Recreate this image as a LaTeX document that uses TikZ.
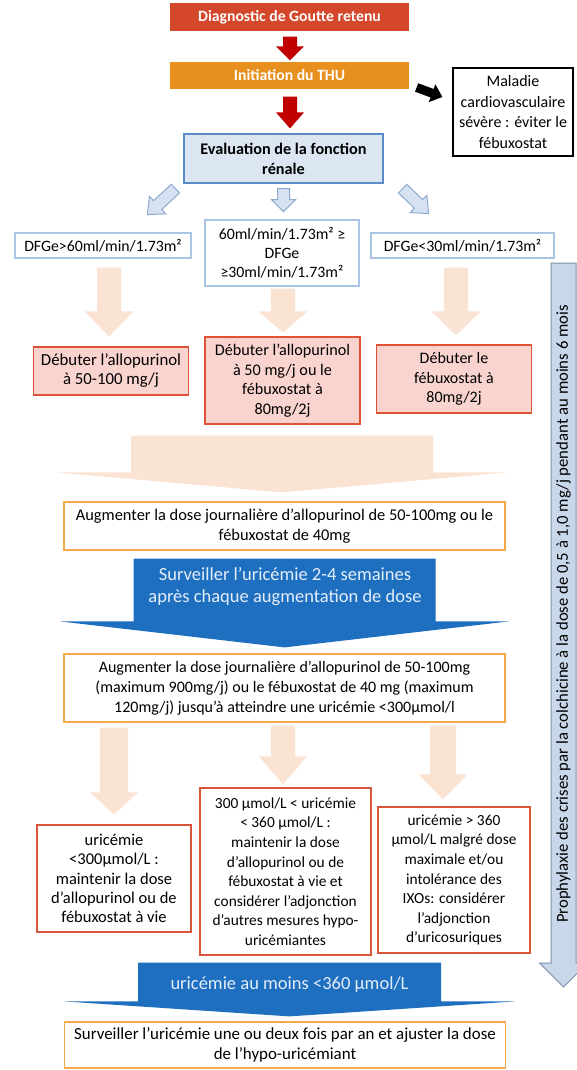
\documentclass[tikz,border=0pt]{standalone}
\usepackage{fontspec}
\setmainfont{Carlito}
\usetikzlibrary{calc}
\definecolor{diagRed}{HTML}{D4472A}
\definecolor{initOrange}{HTML}{E8901E}
\definecolor{arrowRed}{HTML}{C00000}
\definecolor{evalFill}{HTML}{DCE6F2}
\definecolor{evalDraw}{HTML}{5B8BC5}
\definecolor{dfgDraw}{HTML}{A9C4E4}
\definecolor{hollowFill}{HTML}{D6E2F2}
\definecolor{hollowDraw}{HTML}{8EAAD0}
\definecolor{peach}{HTML}{FBE3D3}
\definecolor{pinkFill}{HTML}{F9D4CF}
\definecolor{pinkDraw}{HTML}{DE5236}
\definecolor{goldDraw}{HTML}{F5A94A}
\definecolor{blueArrow}{HTML}{1F6FC0}
\definecolor{blueText}{HTML}{E4EEF9}
\definecolor{uriDraw}{HTML}{D9553A}
\definecolor{proFill}{HTML}{C9D7EA}
\definecolor{proDraw}{HTML}{7D92AF}
% block arrow: style, from, to, shaft half width, head half width, head length
\newcommand{\fatarrow}[6]{%
  \coordinate (fa-s) at #2;
  \coordinate (fa-t) at #3;
  \coordinate (fa-h) at ($(fa-t)!#6!(fa-s)$);
  \draw[#1] ($(fa-s)!#4!90:(fa-t)$) -- ($(fa-h)!#4!-90:(fa-s)$) -- ($(fa-h)!#5!-90:(fa-s)$)
    -- (fa-t) -- ($(fa-h)!#5!90:(fa-s)$) -- ($(fa-h)!#4!90:(fa-s)$) -- ($(fa-s)!#4!-90:(fa-t)$) -- cycle;
}
% font size and line skip
\newcommand{\fsz}[2]{\fontsize{#1}{#2}\selectfont}

\begin{document}
\begin{tikzpicture}[x=1pt,y=-1pt,line width=1.2pt]
\tikzstyle{every node}=[font=\fsz{16}{19.6}, align=center, inner sep=0pt]
\tikzstyle{title}=[minimum width=239pt, text=white, font=\fsz{15.7}{18}\bfseries]
\tikzstyle{evalbox}=[draw=evalDraw, fill=evalFill, minimum width=199pt, minimum height=49pt, font=\fsz{16.2}{20}\bfseries]
\tikzstyle{dfgbox}=[draw=dfgDraw, fill=white, font=\fsz{15.8}{19}]
\tikzstyle{startbox}=[draw=pinkDraw, fill=pinkFill, minimum width=155pt]
\tikzstyle{dosebox}=[draw=goldDraw, fill=white, minimum width=441pt]
\tikzstyle{uribox}=[draw=uriDraw, fill=white]
\tikzstyle{redarr}=[fill=arrowRed, draw=none]
\tikzstyle{blackarr}=[fill=black, draw=none]
\tikzstyle{hollowarr}=[fill=hollowFill, draw=hollowDraw, line width=1pt]
\tikzstyle{peacharr}=[fill=peach, draw=none]
\tikzstyle{bluearr}=[fill=blueArrow, draw=none]
\tikzstyle{proarr}=[fill=proFill, draw=proDraw, line width=1pt]
\tikzstyle{bluetext}=[text=blueText, font=\fsz{18.5}{22.5}]
\useasboundingbox (0,0) rectangle (577,1070);
\fill[white] (0,0) rectangle (577,1070);

% boxes
\node[title, fill=diagRed, minimum height=28pt] (diag) at (289.5,17) {Diagnostic de Goutte retenu};
\node[title, fill=initOrange, minimum height=27pt] (init) at (289.5,75.5) {Initiation du THU};
\node[evalbox] (eval) at (283.5,158.5) {Evaluation de la fonction\\rénale};
\node[draw=black, fill=white, minimum width=120pt, minimum height=88pt, font=\fsz{16}{20.5}] (maladie) at (513,112) {Maladie\\cardiovasculaire\\sévère : éviter le\\fébuxostat};
\node[dfgbox, minimum width=176pt, minimum height=25pt] (dfgA) at (103,245.5) {DFGe>60ml/min/1.73m²};
\node[dfgbox, minimum width=154pt, minimum height=66pt] (dfgB) at (282,253) {60ml/min/1.73m² ≥\\DFGe\\≥30ml/min/1.73m²};
\node[dfgbox, minimum width=183pt, minimum height=25pt] (dfgC) at (462.5,245.5) {DFGe<30ml/min/1.73m²};
\node[startbox, minimum height=48pt, font=\fsz{16.8}{19}] (debA) at (111,371) {Débuter l’allopurinol\\à 50-100 mg/j};
\node[startbox, minimum height=87pt, font=\fsz{16.2}{19.6}] (debB) at (282.5,380.5) {Débuter l’allopurinol\\à 50 mg/j ou le\\fébuxostat à\\80mg/2j};
\node[startbox, minimum height=68pt] (debC) at (454,379) {Débuter le\\fébuxostat à\\80mg/2j};
\node[dosebox, minimum height=48pt, font=\fsz{16.4}{20}] (augm) at (284.5,526) {Augmenter la dose journalière d’allopurinol de 50-100mg ou le\\fébuxostat de 40mg};
\node[dosebox, minimum height=68pt, font=\fsz{16}{20}] (augmmax) at (284.5,688) {Augmenter la dose journalière d’allopurinol de 50-100mg\\(maximum 900mg/j) ou le fébuxostat de 40 mg (maximum\\120mg/j) jusqu’à atteindre une uricémie <300µmol/l};
\node[uribox, minimum width=154pt, minimum height=107pt, font=\fsz{16.5}{19.3}] (uriA) at (114,878.5) {uricémie\\<300µmol/L :\\maintenir la dose\\d’allopurinol ou de\\fébuxostat à vie};
\node[uribox, minimum width=171pt, minimum height=167pt, font=\fsz{15.4}{19.6}] (uriB) at (285.5,871.5) {300 µmol/L < uricémie\\< 360 µmol/L :\\maintenir la dose\\d’allopurinol ou de\\fébuxostat à vie et\\considérer l’adjonction\\d’autres mesures hypo-\\uricémiantes};
\node[uribox, minimum width=152pt, minimum height=146pt, font=\fsz{15.4}{19.6}] (uriC) at (454,880) {uricémie > 360\\µmol/L malgré dose\\maximale et/ou\\intolérance des\\IXOs: considérer\\l’adjonction\\d’uricosuriques};
\node[dosebox, minimum height=46pt, font=\fsz{16.9}{20}] (suivi) at (285,1045) {Surveiller l’uricémie une ou deux fois par an et ajuster la dose\\de l’hypo-uricémiant};

% arrows
\fatarrow{redarr}{($(diag.south)+(0.5,5)$)}{($(init.north)+(0.5,-1)$)}{7pt}{14pt}{14pt}
\fatarrow{redarr}{($(init.south)+(0.5,7)$)}{($(init.south |- eval.north)+(0.5,-5)$)}{7pt}{14pt}{16pt}
\fatarrow{blackarr}{($(init.east)+(7,12)$)}{($(maladie.west)+(-10,-15)$)}{4.5pt}{9.5pt}{11pt}
\fatarrow{hollowarr}{($(eval.south west)+(-8,5)$)}{($(eval.south west)+(-36,31)$)}{6pt}{12pt}{14pt}
\fatarrow{hollowarr}{($(eval.south)+(0,5)$)}{($(eval.south)+(0,28)$)}{6pt}{12pt}{12pt}
\fatarrow{hollowarr}{($(eval.south east)+(19,5)$)}{($(eval.south east)+(45,30)$)}{6pt}{12pt}{14pt}
\fatarrow{peacharr}{($(debA.north |- dfgA.south)+(-2,9)$)}{($(debA.north)+(-2,-10)$)}{12pt}{24.5pt}{25pt}
\fatarrow{peacharr}{($(dfgB.south)+(1,2)$)}{($(debB.north)+(0.5,-4)$)}{12pt}{24.5pt}{21pt}
\fatarrow{peacharr}{($(debC.north |- dfgC.south)+(2,9)$)}{($(debC.north)+(2,-9)$)}{12pt}{24.5pt}{24pt}
\fatarrow{peacharr}{($(debB.south -| augm.north)+(-2.5,11)$)}{($(augm.north)+(-2.5,-9)$)}{151pt}{225.5pt}{20pt}
\fatarrow{bluearr}{($(augm.south)+(0,8)$)}{($(augmmax.north)+(0,-6)$)}{151pt}{224.5pt}{26pt}
\fatarrow{peacharr}{($(uriA.north |- augmmax.south)+(0,5)$)}{($(uriA.north)+(0,-10)$)}{14pt}{24pt}{22pt}
\fatarrow{peacharr}{($(uriB.north |- augmmax.south)+(-2.5,3)$)}{($(uriB.north)+(-2.5,-3)$)}{12pt}{24pt}{28pt}
\fatarrow{peacharr}{($(uriC.north |- augmmax.south)+(-11,3)$)}{($(uriC.north)+(-11,-7)$)}{13pt}{24.5pt}{25pt}
\fatarrow{bluearr}{($(uriB.south)+(4,7)$)}{($(suivi.north)+(4.5,-5)$)}{151.5pt}{225.5pt}{15pt}
\coordinate (proTop) at (563.5,263);
\coordinate (proTip) at (563.5,987);
\fatarrow{proarr}{(proTop)}{(proTip)}{12.5pt}{24pt}{24pt}

% texts on arrows
\node[bluetext] (surv) at (285,586.5) {Surveiller l’uricémie 2-4 semaines\\après chaque augmentation de dose};
\node[bluetext] (note) at (289.5,985) {uricémie au moins <360 µmol/L};
\node[rotate=90, font=\fsz{16.7}{20}] (prophy) at (563.5,614) {Prophylaxie des crises par la colchicine à la dose de 0,5 à 1,0 mg/j pendant au moins 6 mois};
\end{tikzpicture}
\end{document}
